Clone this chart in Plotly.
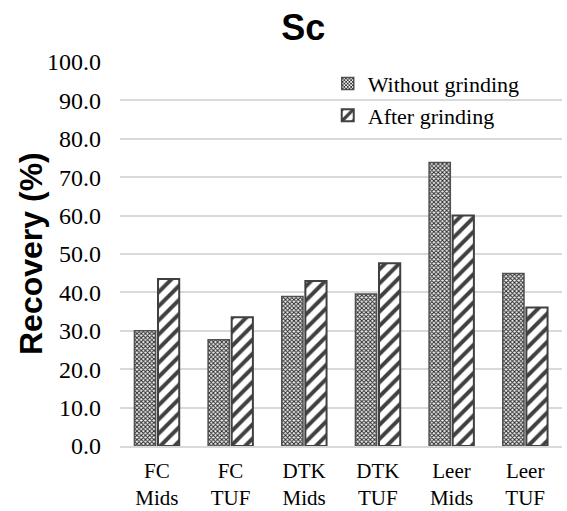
import plotly.graph_objects as go

categories = ["FC<br>Mids", "FC<br>TUF", "DTK<br>Mids", "DTK<br>TUF", "Leer<br>Mids", "Leer<br>TUF"]
without_grinding = [30.0, 27.7, 38.9, 39.6, 73.8, 44.9]
after_grinding = [43.5, 33.5, 43.0, 47.6, 60.0, 36.1]
y_ticks = [0, 10, 20, 30, 40, 50, 60, 70, 80, 90, 100]

edge = "#404040"
serif = "Liberation Serif, Times New Roman, serif"
sans = "Liberation Sans, Arial, sans-serif"

fig = go.Figure()
fig.add_trace(go.Bar(
    x=categories, y=without_grinding, name="Without grinding", legendgroup="a",
    marker=dict(color="white", line=dict(color="#505050", width=1.5),
                pattern=dict(shape="x", size=3, solidity=0.55, fgcolor="#2a2a2a",
                             fgopacity=1, bgcolor="#f0f0f0", fillmode="overlay")),
))
fig.add_trace(go.Bar(
    x=categories, y=after_grinding, name="After grinding", legendgroup="b",
    marker=dict(color="white", line=dict(color=edge, width=2),
                pattern=dict(shape="/", size=10, solidity=0.4, fgcolor=edge,
                             fgopacity=1, bgcolor="white", fillmode="overlay")),
))

fig.update_layout(
    width=567, height=511,
    margin=dict(l=120, r=5, t=62, b=65),
    paper_bgcolor="white", plot_bgcolor="white",
    barmode="group", bargap=0.36, bargroupgap=0.1,
    title=dict(text="<b>Sc</b>", xref="container", x=0.535, xanchor="center",
               yref="container", y=1 - 27 / 511, yanchor="middle",
               font=dict(family=sans, size=36, color="black")),
    legend=dict(x=0.47, y=0.998, xanchor="left", yanchor="top",
                font=dict(family=serif, size=22, color="black"),
                bgcolor="rgba(0,0,0,0)", tracegroupgap=0, traceorder="grouped"),
    font=dict(family=serif, size=22, color="black"),
    annotations=[dict(
        text="<b>Recovery (%)</b>", xref="paper", yref="paper",
        x=-(120 - 31) / 442, y=0.5, textangle=-90, showarrow=False,
        xanchor="center", yanchor="middle",
        font=dict(family=sans, size=32, color="black"),
    )],
)
fig.update_yaxes(
    range=[0, 100], tickvals=y_ticks, ticktext=[f"{v:.1f}" for v in y_ticks],
    showgrid=True, gridcolor="#d9d9d9", gridwidth=1.5, zeroline=False,
    showline=False, ticks="", ticklabelstandoff=18, automargin=False,
    tickfont=dict(family=serif, size=24, color="black"),
)
fig.update_xaxes(
    showline=True, linecolor="#d9d9d9", linewidth=1.5, ticks="",
    ticklabelstandoff=5, automargin=False,
    tickfont=dict(family=serif, size=21, color="black"),
)

fig.write_html("out.html")
